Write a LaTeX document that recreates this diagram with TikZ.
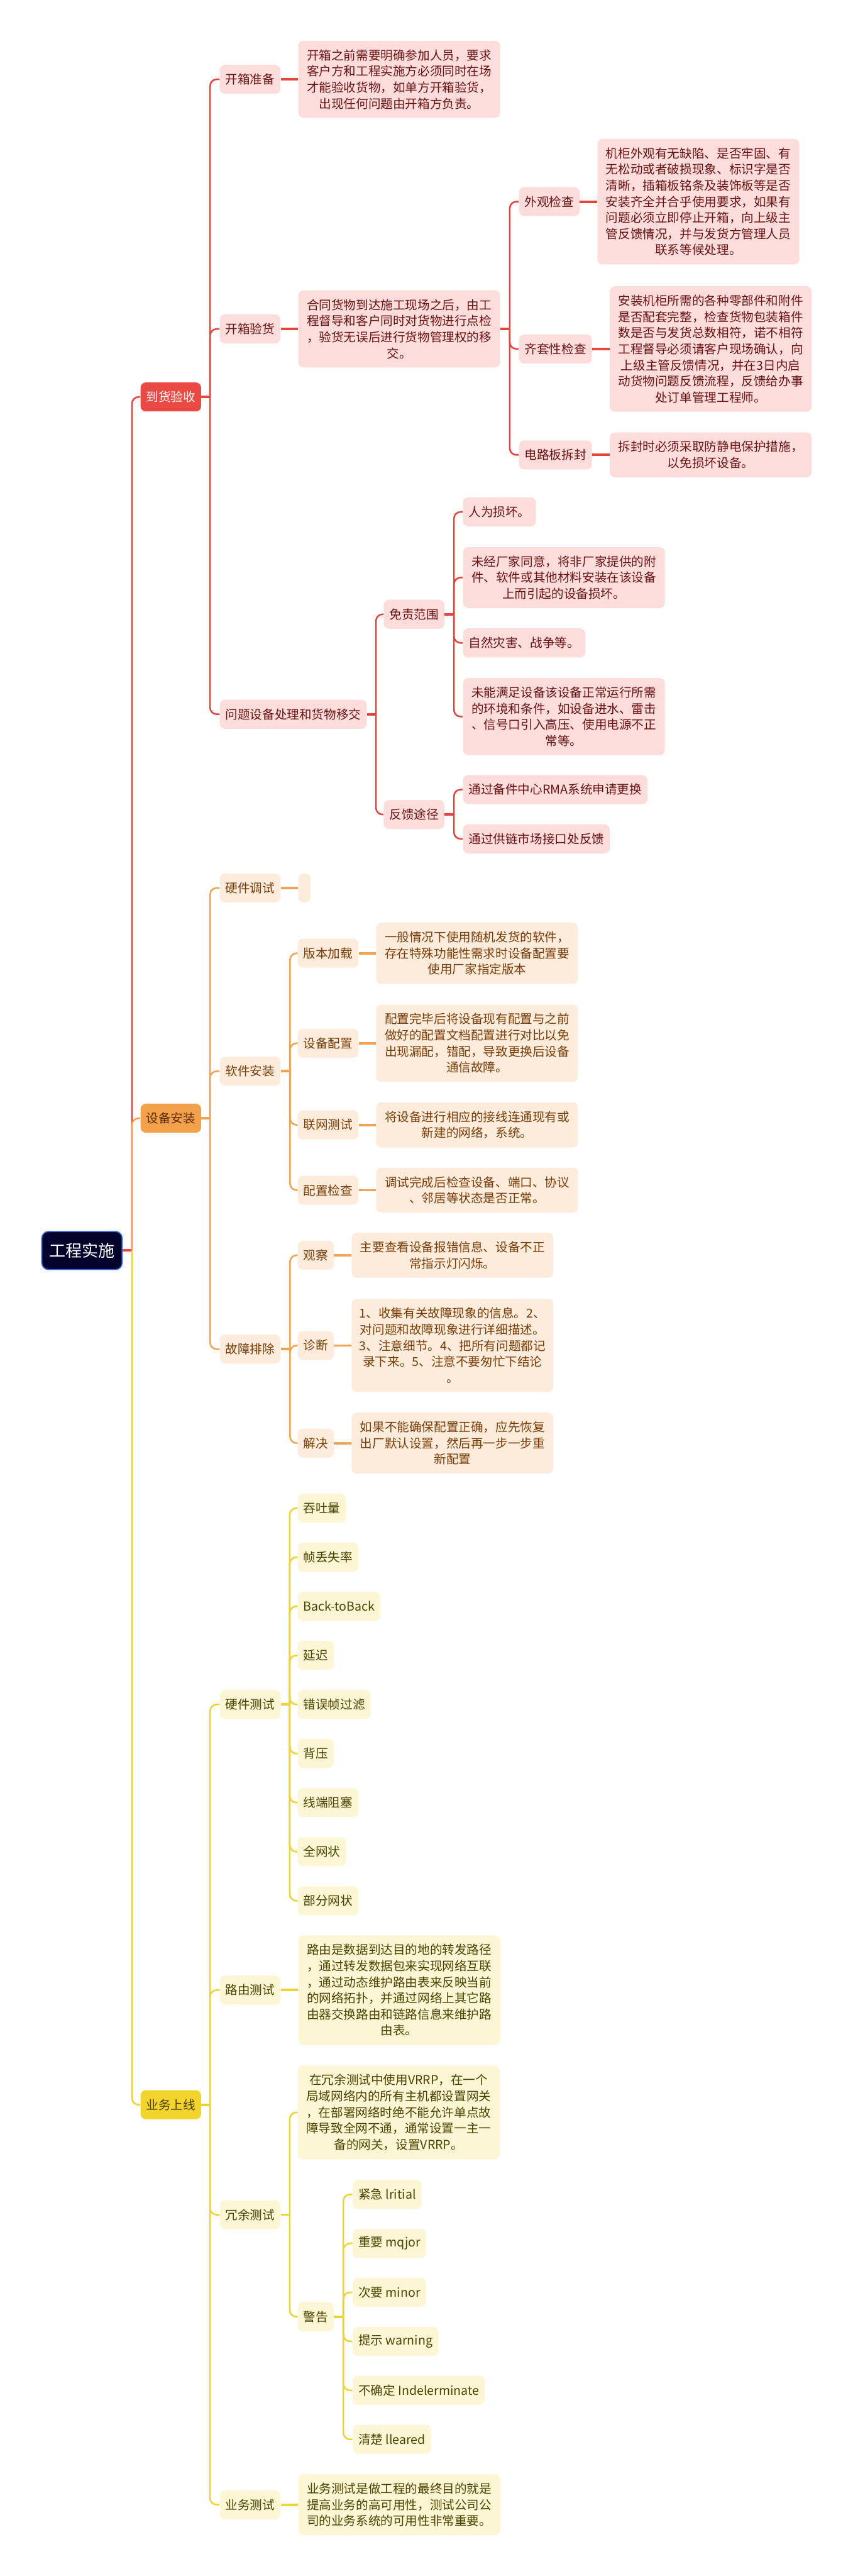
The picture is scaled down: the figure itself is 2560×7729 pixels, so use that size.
\documentclass[tikz,border=0pt]{standalone}
\usepackage{fontspec}
\setmainfont{Noto Sans CJK SC}
\usetikzlibrary{positioning}

\definecolor{redline}{HTML}{E8443E}
\definecolor{redfill}{HTML}{FDDCDC}
\definecolor{redink}{HTML}{6B1212}
\definecolor{redmain}{HTML}{EA4A43}
\definecolor{redhead}{HTML}{FFFFFF}
\definecolor{orgline}{HTML}{F2A254}
\definecolor{orgfill}{HTML}{FDEBDB}
\definecolor{orgink}{HTML}{7A3D08}
\definecolor{orgmain}{HTML}{F4A14C}
\definecolor{orghead}{HTML}{5C2D00}
\definecolor{ylwline}{HTML}{EFD431}
\definecolor{ylwfill}{HTML}{FCF6D5}
\definecolor{ylwink}{HTML}{4D4300}
\definecolor{ylwmain}{HTML}{F2D42C}
\definecolor{ylwhead}{HTML}{4A3F00}
\definecolor{rootfill}{HTML}{03032B}
\definecolor{rootedge}{HTML}{2F63D8}

\tikzset{
  box/.style={anchor=west, rounded corners=4pt, inner xsep=4.25pt, inner ysep=2pt,
    minimum height=21.75pt, font=\fontsize{9.25pt}{12.1pt}\selectfont},
  leaf/.style={box, fill=#1fill, text=#1ink},
  para/.style={leaf=#1, text width=140pt, align=center, inner xsep=5.75pt, inner ysep=6.5pt},
  branch/.style={box, fill=#1main, text=#1head},
  rootbox/.style={anchor=west, fill=rootfill, draw=rootedge, line width=0.8pt,
    rounded corners=5pt, text=white, minimum width=60.25pt, minimum height=28.5pt,
    font=\fontsize{12.3pt}{14pt}\selectfont},
  stub/.style={draw=#1line, line width=1.8pt},
  link/.style={draw=#1line, line width=1.2pt, rounded corners=5pt},
}

\begin{document}
\begin{tikzpicture}[x=0.25pt,y=-0.25pt]
\fill[white] (0,0) rectangle (2560,7729);
\useasboundingbox (0,0) rectangle (2560,7729);

\node[rootbox] (root) at (124,3752) {工程实施};

% 到货验收
\node[branch=red] (arrive) at (421,1191) {到货验收};
\node[leaf=red] (prep) at (659,238) {开箱准备};
\node[para=red, right=13pt of prep] (prepnote) {开箱之前需要明确参加人员，要求\\客户方和工程实施方必须同时在场\\才能验收货物，如单方开箱验货，\\出现任何问题由开箱方负责。};
\node[leaf=red] (check) at (659,987) {开箱验货};
\node[para=red, right=13pt of check] (checknote) {合同货物到达施工现场之后，由工\\程督导和客户同时对货物进行点检\\，验货无误后进行货物管理权的移\\交。};
\node[leaf=red] (look) at (1557,605) {外观检查};
\node[para=red, right=13pt of look] (looknote) {机柜外观有无缺陷、是否牢固、有\\无松动或者破损现象、标识字是否\\清晰，插箱板铭条及装饰板等是否\\安装齐全并合乎使用要求，如果有\\问题必须立即停止开箱，向上级主\\管反馈情况，并与发货方管理人员\\联系等候处理。};
\node[leaf=red] (kit) at (1557,1047) {齐套性检查};
\node[para=red, right=13pt of kit] (kitnote) {安装机柜所需的各种零部件和附件\\是否配套完整，检查货物包装箱件\\数是否与发货总数相符，诺不相符\\工程督导必须请客户现场确认，向\\上级主管反馈情况，并在3日内启\\动货物问题反馈流程，反馈给办事\\处订单管理工程师。};
\node[leaf=red] (board) at (1557,1365) {电路板拆封};
\node[para=red, right=13pt of board] (boardnote) {拆封时必须采取防静电保护措施，\\以免损坏设备。};
\node[leaf=red] (issue) at (659,2143) {问题设备处理和货物移交};
\node[leaf=red] (exempt) at (1151,1843) {免责范围};
\node[leaf=red] (ex1) at (1389,1536) {人为损坏。};
\node[para=red] (ex2) at (1389,1733) {未经厂家同意，将非厂家提供的附\\件、软件或其他材料安装在该设备\\上而引起的设备损坏。};
\node[leaf=red] (ex3) at (1389,1929) {自然灾害、战争等。};
\node[para=red] (ex4) at (1389,2150) {未能满足设备该设备正常运行所需\\的环境和条件，如设备进水、雷击\\、信号口引入高压、使用电源不正\\常等。};
\node[leaf=red] (feedback) at (1151,2444) {反馈途径};
\node[leaf=red] (fb1) at (1389,2369) {通过备件中心RMA系统申请更换};
\node[leaf=red] (fb2) at (1389,2517) {通过供链市场接口处反馈};

% 设备安装
\node[branch=org] (install) at (421,3355) {设备安装};
\node[leaf=org] (hwdebug) at (659,2664) {硬件调试};
\node[leaf=org, inner xsep=0pt, minimum width=9.25pt, right=13pt of hwdebug] (hwdebugnote) {};
\node[leaf=org] (sw) at (659,3214) {软件安装};
\node[leaf=org] (ver) at (893,2860) {版本加载};
\node[para=org, right=13pt of ver] (vernote) {一般情况下使用随机发货的软件，\\存在特殊功能性需求时设备配置要\\使用厂家指定版本};
\node[leaf=org] (cfg) at (893,3130) {设备配置};
\node[para=org, right=13pt of cfg] (cfgnote) {配置完毕后将设备现有配置与之前\\做好的配置文档配置进行对比以免\\出现漏配，错配，导致更换后设备\\通信故障。};
\node[leaf=org] (net) at (893,3375) {联网测试};
\node[para=org, right=13pt of net] (netnote) {将设备进行相应的接线连通现有或\\新建的网络，系统。};
\node[leaf=org] (cfgchk) at (893,3571) {配置检查};
\node[para=org, right=13pt of cfgchk] (cfgchknote) {调试完成后检查设备、端口、协议\\、邻居等状态是否正常。};
\node[leaf=org] (trouble) at (659,4048) {故障排除};
\node[leaf=org] (watch) at (893,3766) {观察};
\node[para=org, right=13pt of watch] (watchnote) {主要查看设备报错信息、设备不正\\常指示灯闪烁。};
\node[leaf=org] (diag) at (893,4037) {诊断};
\node[para=org, right=13pt of diag] (diagnote) {1、收集有关故障现象的信息。2、\\对问题和故障现象进行详细描述。\\3、注意细节。4、把所有问题都记\\录下来。5、注意不要匆忙下结论\\。};
\node[leaf=org] (solve) at (893,4330) {解决};
\node[para=org, right=13pt of solve] (solvenote) {如果不能确保配置正确，应先恢复\\出厂默认设置，然后再一步一步重\\新配置};

% 业务上线
\node[branch=ylw] (online) at (421,6315) {业务上线};
\node[leaf=ylw] (hwtest) at (659,5114) {硬件测试};
\node[leaf=ylw] (route) at (659,5971) {路由测试};
\node[para=ylw, right=13pt of route] (routenote) {路由是数据到达目的地的转发路径\\，通过转发数据包来实现网络互联\\，通过动态维护路由表来反映当前\\的网络拓扑，并通过网络上其它路\\由器交换路由和链路信息来维护路\\由表。};
\node[leaf=ylw] (redund) at (659,6645) {冗余测试};
\node[para=ylw] (redundnote) at (893,6338) {在冗余测试中使用VRRP，在一个\\局域网络内的所有主机都设置网关\\，在部署网络时绝不能允许单点故\\障导致全网不通，通常设置一主一\\备的网关，设置VRRP。};
\node[leaf=ylw] (warn) at (893,6951) {警告};
\node[leaf=ylw] (biz) at (659,7515) {业务测试};
\node[para=ylw, right=13pt of biz] (biznote) {业务测试是做工程的最终目的就是\\提高业务的高可用性，测试公司公\\司的业务系统的可用性非常重要。};

% junctions
\path (root.east) ++(28,0) coordinate (rootj);
\path (arrive.east) ++(26,0) coordinate (arrivej);
\path (checknote.east) ++(28,0) coordinate (checkj);
\path (issue.east) ++(27,0) coordinate (issuej);
\path (exempt.east) ++(28,0) coordinate (exemptj);
\path (feedback.east) ++(28,0) coordinate (feedbackj);
\path (install.east) ++(26,0) coordinate (installj);
\path (sw.east) ++(28,0) coordinate (swj);
\path (trouble.east) ++(28,0) coordinate (troublej);
\path (online.east) ++(26,0) coordinate (onlinej);
\path (hwtest.east) ++(27,0) coordinate (hwtestj);
\path (redund.east) ++(27,0) coordinate (redundj);
\path (warn.east) ++(28,0) coordinate (warnj);

% trunk
\draw[stub=red] (root.east) -- (rootj);
\draw[link=red] (rootj) |- (arrive.west);
\draw[link=ylw] (rootj) |- (online.west);
\draw[link=org] (rootj) |- (install.west);

% red branch
\draw[stub=red] (arrive.east) -- (arrivej);
\foreach \n in {prep,check,issue} \draw[link=red] (arrivej) |- (\n.west);
\draw[stub=red] (prep) -- (prepnote);
\draw[stub=red] (check) -- (checknote);
\draw[stub=red] (checknote.east) -- (checkj);
\foreach \n in {look,kit,board} \draw[link=red] (checkj) |- (\n.west);
\draw[stub=red] (look) -- (looknote);
\draw[stub=red] (kit) -- (kitnote);
\draw[stub=red] (board) -- (boardnote);
\draw[stub=red] (issue.east) -- (issuej);
\foreach \n in {exempt,feedback} \draw[link=red] (issuej) |- (\n.west);
\draw[stub=red] (exempt.east) -- (exemptj);
\foreach \n in {ex1,ex2,ex3,ex4} \draw[link=red] (exemptj) |- (\n.west);
\draw[stub=red] (feedback.east) -- (feedbackj);
\foreach \n in {fb1,fb2} \draw[link=red] (feedbackj) |- (\n.west);

% orange branch
\draw[stub=org] (install.east) -- (installj);
\foreach \n in {hwdebug,sw,trouble} \draw[link=org] (installj) |- (\n.west);
\draw[stub=org] (hwdebug) -- (hwdebugnote);
\draw[stub=org] (sw.east) -- (swj);
\foreach \n in {ver,cfg,net,cfgchk} {
  \draw[link=org] (swj) |- (\n.west);
  \draw[stub=org] (\n) -- (\n note);
}
\draw[stub=org] (trouble.east) -- (troublej);
\foreach \n in {watch,diag,solve} {
  \draw[link=org] (troublej) |- (\n.west);
  \draw[stub=org] (\n) -- (\n note);
}

% yellow branch
\draw[stub=ylw] (online.east) -- (onlinej);
\foreach \n in {hwtest,route,redund,biz} \draw[link=ylw] (onlinej) |- (\n.west);
\draw[stub=ylw] (hwtest.east) -- (hwtestj);
\foreach \lbl [count=\i from 0] in {吞吐量,帧丢失率,Back-toBack,延迟,错误帧过滤,背压,线端阻塞,全网状,部分网状} {
  \node[leaf=ylw] (hw\i) at (893,4525+147.25*\i) {\lbl};
  \draw[link=ylw] (hwtestj) |- (hw\i.west);
}
\draw[stub=ylw] (route) -- (routenote);
\draw[stub=ylw] (redund.east) -- (redundj);
\foreach \n in {redundnote,warn} \draw[link=ylw] (redundj) |- (\n.west);
\draw[stub=ylw] (warn.east) -- (warnj);
\foreach \lbl [count=\i from 0] in {紧急 lritial,重要 mqjor,次要 minor,提示 warning,不确定 Indelerminate,清楚 lleared} {
  \node[leaf=ylw] (al\i) at (1058,6584+147*\i) {\lbl};
  \draw[link=ylw] (warnj) |- (al\i.west);
}
\draw[stub=ylw] (biz) -- (biznote);

\end{tikzpicture}
\end{document}
